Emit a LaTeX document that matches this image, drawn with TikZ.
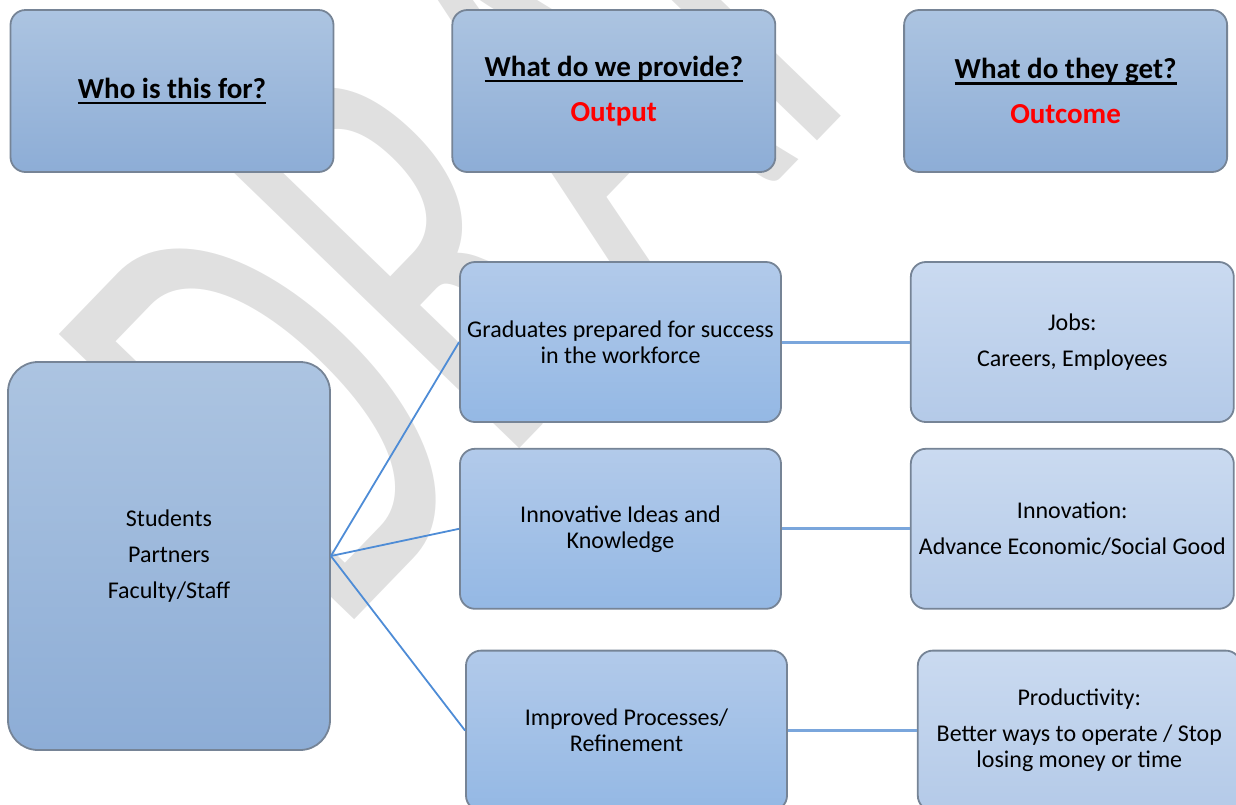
\documentclass[tikz,border=0pt]{standalone}
\usepackage{fontspec}
\setmainfont{Carlito}
\usetikzlibrary{positioning}

\definecolor{boxedge}{RGB}{118,132,150}
\definecolor{headtop}{RGB}{172,196,225}
\definecolor{headbot}{RGB}{141,173,214}
\definecolor{outtop}{RGB}{178,202,234}
\definecolor{outbot}{RGB}{148,184,228}
\definecolor{gaintop}{RGB}{202,218,240}
\definecolor{gainbot}{RGB}{180,202,232}
\definecolor{fanblue}{RGB}{78,140,214}
\definecolor{linkblue}{RGB}{122,166,220}

\newcommand{\headul}[1]{\setbox0\hbox{#1}\rlap{\rule[-3pt]{\wd0}{1.2pt}}\box0}

\begin{document}
\begin{tikzpicture}[
basebox/.style={rectangle, rounded corners=7.5pt, draw=boxedge, line width=0.9pt, align=center, inner sep=2pt, font=\fontsize{12}{13}\selectfont},
headbox/.style={basebox, top color=headtop, bottom color=headbot, minimum width=161.5pt, minimum height=81pt, font=\fontsize{14.5}{17.5}\selectfont\bfseries},
groupbox/.style={basebox, rounded corners=15pt, top color=headtop, bottom color=headbot, minimum width=161pt, minimum height=194pt},
outbox/.style={basebox, top color=outtop, bottom color=outbot, minimum width=160.5pt, minimum height=80pt},
gainbox/.style={basebox, top color=gaintop, bottom color=gainbot, minimum width=161.5pt, minimum height=80pt},
fanline/.style={draw=fanblue, line width=0.9pt},
linkline/.style={draw=linkblue, line width=1.5pt},
watermark/.style={text=black!12, font=\fontsize{320}{320}\selectfont, inner sep=0pt},
]
\useasboundingbox (0,0) rectangle (618pt,-402pt);

%Watermark
\begin{scope}[shift={(168pt,-319.5pt)}, rotate=46, xscale=0.6, transform shape]
\node[watermark, anchor=base west] (draft) at (0,0) {DRAFT};
\end{scope}

%Nodes
\node[headbox]      (who)      at (86pt,-45.5pt)   {\headul{Who is this for?}};
\node[headbox]      (provide)  [right=58.5pt of who]     {\headul{What do we provide?}\\[5pt]\textcolor{red}{Output}};
\node[headbox]      (get)      [right=63.5pt of provide] {\headul{What do they get?}\\[5pt]\textcolor{red}{Outcome}};

\node[groupbox]     (students) at (84.5pt,-278pt)  {Students\\[5pt]Partners\\[5pt]Faculty/Staff};

\node[outbox]       (grad)     at (310.25pt,-171pt) {Graduates prepared for success\\in the workforce};
\node[outbox]       (ideas)    [below=12.5pt of grad]  {Innovative Ideas and\\Knowledge};
\node[outbox]       (improved) [below=20pt of ideas, xshift=3pt] {Improved Processes/\\Refinement};

\node[gainbox]      (jobs)         [right=64pt of grad]     {Jobs:\\[5pt]Careers, Employees};
\node[gainbox]      (innovation)   [right=64pt of ideas]    {Innovation:\\[5pt]Advance Economic/Social Good};
\node[gainbox]      (productivity) [right=64.5pt of improved] {Productivity:\\[5pt]Better ways to operate / Stop\\losing money or time};

%Lines
\draw[fanline] (students.east) -- (grad.west);
\draw[fanline] (students.east) -- (ideas.west);
\draw[fanline] (students.east) -- (improved.west);
\draw[linkline] (grad.east) -- (jobs.west);
\draw[linkline] (ideas.east) -- (innovation.west);
\draw[linkline] (improved.east) -- (productivity.west);

\end{tikzpicture}
\end{document}
